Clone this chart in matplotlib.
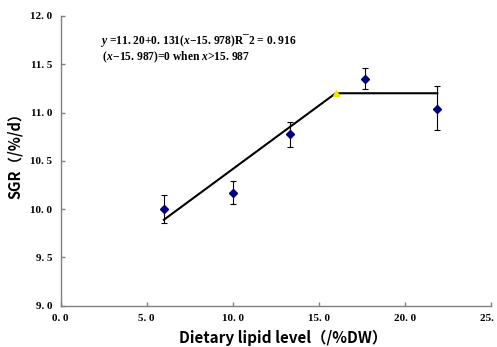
import matplotlib
matplotlib.use("Agg")
import matplotlib.pyplot as plt

# measured means and error bars
lipid = [6.0, 10.0, 13.35, 17.7, 21.9]
sgr = [10.00, 10.17, 10.78, 11.35, 11.04]
err_lo = [0.14, 0.12, 0.14, 0.11, 0.22]
err_hi = [0.15, 0.12, 0.12, 0.11, 0.23]

# broken-line fit
fit_x = [6.0, 15.987, 21.9]
fit_y = [9.89, 11.20, 11.20]
break_x = 15.987
break_y = 11.20

xticks = [0, 5, 10, 15, 20, 25]
yticks = [9.0, 9.5, 10.0, 10.5, 11.0, 11.5, 12.0]

eq_text = (r"$y$ =11. 20+0. 131($x$−15. 978)R¯2 = 0. 916" "\n"
           r" ($x$−15. 987)=0 when $x$>15. 987")

plt.rcParams['mathtext.fontset'] = 'custom'
plt.rcParams['mathtext.rm'] = 'Liberation Serif:bold'
plt.rcParams['mathtext.it'] = 'Liberation Serif:bold:italic'

fig = plt.figure(figsize=(4.97, 3.47), dpi=100)
ax = fig.add_axes([0.1221, 0.1190, 0.8652, 0.8349])

ax.plot(fit_x, fit_y, color="black", lw=1.5, zorder=2)
ax.plot([break_x], [break_y], marker="^", color="#f5e600", ms=5, zorder=3)
ax.errorbar(lipid, sgr, yerr=[err_lo, err_hi], fmt="D", color="#000080",
            ms=4, ecolor="black", elinewidth=0.8, capsize=2.5, capthick=0.8,
            zorder=4)

ax.set_xlim(0, 25)
ax.set_ylim(9.0, 12.0)
ax.set_xticks(xticks)
ax.set_xticklabels([("%.1f" % v).replace(".", ". ") for v in xticks])
ax.set_yticks(yticks)
ax.set_yticklabels([("%.1f" % v).replace(".", ". ") for v in yticks])

for s in ["top", "right"]:
    ax.spines[s].set_visible(False)
for s in ["left", "bottom"]:
    ax.spines[s].set_color("#808080")
    ax.spines[s].set_linewidth(1.0)

ax.tick_params(direction="in", length=3, color="#808080", width=1,
               labelsize=8, pad=6)
for lab in ax.get_xticklabels() + ax.get_yticklabels():
    lab.set_fontfamily("Liberation Serif")
    lab.set_fontweight("bold")

cjk = ["Noto Sans CJK SC", "DejaVu Sans"]
ax.set_xlabel("Dietary lipid level（/%DW）", family=cjk, fontsize=11,
              fontweight="bold")
ax.xaxis.set_label_coords(0.516, -0.085)
ax.set_ylabel("SGR（/%/d）", family=cjk, fontsize=10.5, fontweight="bold")
ax.yaxis.set_label_coords(-0.088, 0.53)

ax.text(2.28, 11.665, eq_text, fontsize=8.3, family="Liberation Serif",
        fontweight="bold", va="center", ha="left", linespacing=1.05)

fig.savefig("out.png", dpi=100)
